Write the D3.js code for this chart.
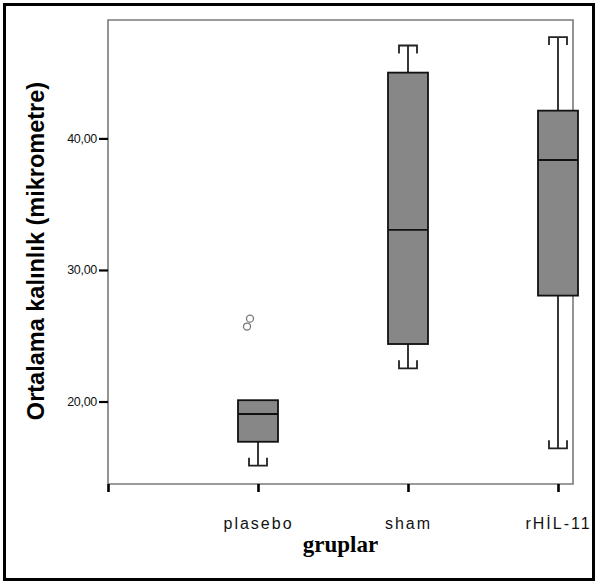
<!DOCTYPE html>
<html>
<head>
<meta charset="utf-8">
<script src="https://cdn.jsdelivr.net/npm/d3@7"></script>
<style>
  body { margin: 0; background: #fff; }
  svg { display: block; }
</style>
</head>
<body>
<div id="chart"></div>
<script>
// groups and box statistics
var groups = ["plasebo", "sham", "rHİL-11"];
var whiskerLow = [15.12, 22.52, 16.44];
var q1 = [16.94, 24.37, 28.05];
var median = [19.05, 33.04, 38.36];
var q3 = [20.1, 45.0, 42.11];
var whiskerHigh = [20.1, 47.06, 47.7];
var outliers = [{ group: 0, value: 25.7 }, { group: 0, value: 26.3 }];
var yTicks = [20, 30, 40];

var svgWidth = 597, svgHeight = 583;
// note: "top" is reserved on window, so use plot* names
var plotLeft = 108, plotRight = 573, plotTop = 20, plotBottom = 484;

var svg = d3.select("#chart").append("svg")
    .attr("width", svgWidth)
    .attr("height", svgHeight);

// outer frame
svg.append("rect")
    .attr("x", 4.5).attr("y", 4.5)
    .attr("width", 589).attr("height", 575)
    .attr("fill", "none")
    .attr("stroke", "#000")
    .attr("stroke-width", 3);

var x = d3.scaleLinear().domain([0, 3.1]).range([plotLeft, plotRight]);
var y = d3.scaleLinear().domain([13.73, 49.0]).range([plotBottom, plotTop]);

// plot frame (left, top, right, bottom)
svg.append("path")
    .attr("d", "M" + plotLeft + "," + plotBottom + "V" + plotTop + "H" + plotRight + "V" + plotBottom + "H" + plotLeft)
    .attr("fill", "none")
    .attr("stroke", "#7a7a7a")
    .attr("stroke-width", 1.6);

// y axis ticks + labels
var yAxis = d3.axisLeft(y)
    .tickValues(yTicks)
    .tickSize(9)
    .tickPadding(2)
    .tickFormat(function (d) { return d3.format(".2f")(d).replace(".", ","); });

var gy = svg.append("g")
    .attr("transform", "translate(" + plotLeft + ",0)")
    .call(yAxis);
gy.select(".domain").remove();
gy.selectAll(".tick line").attr("stroke", "#000").attr("stroke-width", 2.2);
gy.selectAll(".tick text")
    .attr("fill", "#111")
    .style("font-family", "'Liberation Sans', Arial, sans-serif")
    .style("font-size", "12.5px")
    .style("letter-spacing", "-0.3px");

// x axis ticks (including the empty slot at 0)
var xAxis = d3.axisBottom(x)
    .tickValues([0, 1, 2, 3])
    .tickSize(8)
    .tickPadding(26)
    .tickFormat(function (d) { return d === 0 ? "" : groups[d - 1]; });

var gx = svg.append("g")
    .attr("transform", "translate(0," + plotBottom + ")")
    .call(xAxis);
gx.select(".domain").remove();
gx.selectAll(".tick line").attr("stroke", "#000").attr("stroke-width", 2.6);
gx.selectAll(".tick text")
    .attr("fill", "#111")
    .style("font-family", "'Liberation Sans', Arial, sans-serif")
    .style("font-size", "16px")
    .style("letter-spacing", "2px");

// boxes
var boxW = 40, capW = 18, capLeg = 8;
var data = groups.map(function (g, i) {
  return { i: i + 1, lo: whiskerLow[i], q1: q1[i], med: median[i], q3: q3[i], hi: whiskerHigh[i] };
});

var box = svg.selectAll(".box").data(data).enter().append("g").attr("class", "box");

// whiskers
box.append("path")
    .attr("d", function (d) {
      var cx = x(d.i), p = "";
      if (d.lo < d.q1) {
        p += "M" + cx + "," + y(d.q1) + "V" + y(d.lo);
        p += "M" + (cx - capW / 2) + "," + (y(d.lo) - capLeg) + "V" + y(d.lo) + "H" + (cx + capW / 2) + "V" + (y(d.lo) - capLeg);
      }
      if (d.hi > d.q3) {
        p += "M" + cx + "," + y(d.q3) + "V" + y(d.hi);
        p += "M" + (cx - capW / 2) + "," + (y(d.hi) + capLeg) + "V" + y(d.hi) + "H" + (cx + capW / 2) + "V" + (y(d.hi) + capLeg);
      }
      return p;
    })
    .attr("fill", "none")
    .attr("stroke", "#222")
    .attr("stroke-width", 1.8);

box.append("rect")
    .attr("x", function (d) { return x(d.i) - boxW / 2; })
    .attr("y", function (d) { return y(d.q3); })
    .attr("width", boxW)
    .attr("height", function (d) { return y(d.q1) - y(d.q3); })
    .attr("fill", "#878787")
    .attr("stroke", "#111")
    .attr("stroke-width", 1.8);

box.append("line")
    .attr("x1", function (d) { return x(d.i) - boxW / 2; })
    .attr("x2", function (d) { return x(d.i) + boxW / 2; })
    .attr("y1", function (d) { return y(d.med); })
    .attr("y2", function (d) { return y(d.med); })
    .attr("stroke", "#111")
    .attr("stroke-width", 1.8);

// outliers
svg.selectAll(".outlier").data(outliers).enter().append("circle")
    .attr("class", "outlier")
    .attr("cx", function (d, k) { return x(d.group + 1) - 11 + k * 3; })
    .attr("cy", function (d) { return y(d.value); })
    .attr("r", 3.5)
    .attr("fill", "none")
    .attr("stroke", "#777")
    .attr("stroke-width", 1.3);

// axis titles
svg.append("text")
    .attr("x", (plotLeft + plotRight) / 2)
    .attr("y", 552)
    .attr("text-anchor", "middle")
    .style("font-family", "'Liberation Serif', 'DejaVu Serif', serif")
    .style("font-weight", "bold")
    .style("font-size", "23px")
    .text("gruplar");

svg.append("text")
    .attr("transform", "translate(44,251) rotate(-90)")
    .attr("text-anchor", "middle")
    .style("font-family", "'Liberation Sans', Arial, sans-serif")
    .style("font-weight", "bold")
    .style("font-size", "23.5px")
    .text("Ortalama kalınlık (mikrometre)");
</script>
</body>
</html>
